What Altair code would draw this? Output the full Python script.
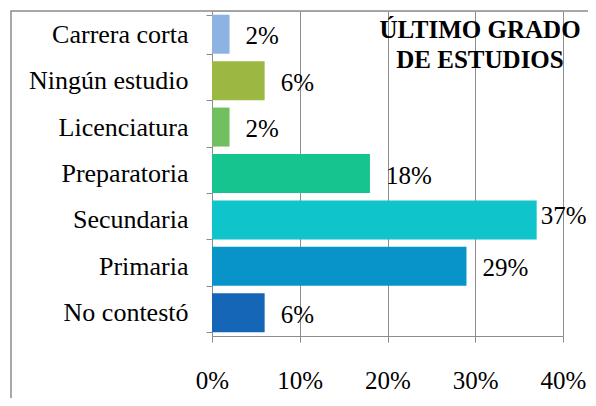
import altair as alt
import pandas as pd

categories = ["Carrera corta", "Ningún estudio", "Licenciatura", "Preparatoria",
              "Secundaria", "Primaria", "No contestó"]
values = [0.02, 0.06, 0.02, 0.18, 0.37, 0.29, 0.06]
colors = ["#8DB3E2", "#9BB843", "#72BF5F", "#16C490", "#10C4CC", "#0894C8", "#1666B8"]
tick_values = [0.0, 0.1, 0.2, 0.3, 0.4]
title_lines = ["ÚLTIMO GRADO", "DE ESTUDIOS"]

df = pd.DataFrame({"cat": categories, "pct": values})

FONT = "Liberation Serif"
GRAY = "#8C8C8C"

base = alt.Chart(df)

x_enc = alt.X("pct:Q",
              scale=alt.Scale(domain=[0, 0.4], nice=False),
              axis=alt.Axis(values=tick_values, format=".0%", title=None,
                            grid=True, gridColor=GRAY, gridWidth=1,
                            domainColor=GRAY, tickColor=GRAY, tickSize=6,
                            labelFont=FONT, labelFontSize=25, labelColor="black",
                            labelPadding=26, labelFlush=False))
y_enc = alt.Y("cat:N", sort=categories,
              scale=alt.Scale(paddingInner=0.16, paddingOuter=0.08),
              axis=alt.Axis(title=None, domainColor=GRAY, tickColor=GRAY,
                            tickSize=6, tickBand="extent",
                            labelFont=FONT, labelFontSize=26, labelColor="black",
                            labelPadding=18))

bars = base.mark_bar().encode(
    x=x_enc, y=y_enc,
    color=alt.Color("cat:N", scale=alt.Scale(domain=categories, range=colors), legend=None),
)

label_enc = dict(x="pct:Q", y=alt.Y("cat:N", sort=categories),
                 text=alt.Text("pct:Q", format=".0%"))

labels = base.transform_filter("datum.pct <= 0.3").mark_text(
    align="left", baseline="middle", dx=16, dy=2,
    font=FONT, fontSize=25, color="black").encode(**label_enc)

labels_long = base.transform_filter("datum.pct > 0.3").mark_text(
    align="left", baseline="middle", dx=4, dy=-4,
    font=FONT, fontSize=25, color="black").encode(**label_enc)

one = alt.Chart(pd.DataFrame({"t": ["\n".join(title_lines)]}))
title = one.mark_text(align="center", baseline="top", font=FONT, fontSize=25,
                      fontWeight="bold", color="black", lineHeight=30,
                      lineBreak="\n").encode(
    x=alt.value(268), y=alt.value(7), text="t:N")

border = one.mark_rect(fill=None, fillOpacity=0, stroke=GRAY, strokeWidth=1.5).encode(
    x=alt.value(-201), x2=alt.value(420), y=alt.value(0), y2=alt.value(420))

chart = alt.layer(border, bars, labels, labels_long, title).properties(
    width=351, height=325,
    autosize=alt.AutoSizeParams(type="none"),
    padding={"left": 204, "top": 3, "right": 25, "bottom": 62},
).configure_view(strokeWidth=0).configure(background="white")

chart.save("out.html", embed_options={"renderer": "svg", "actions": False})
